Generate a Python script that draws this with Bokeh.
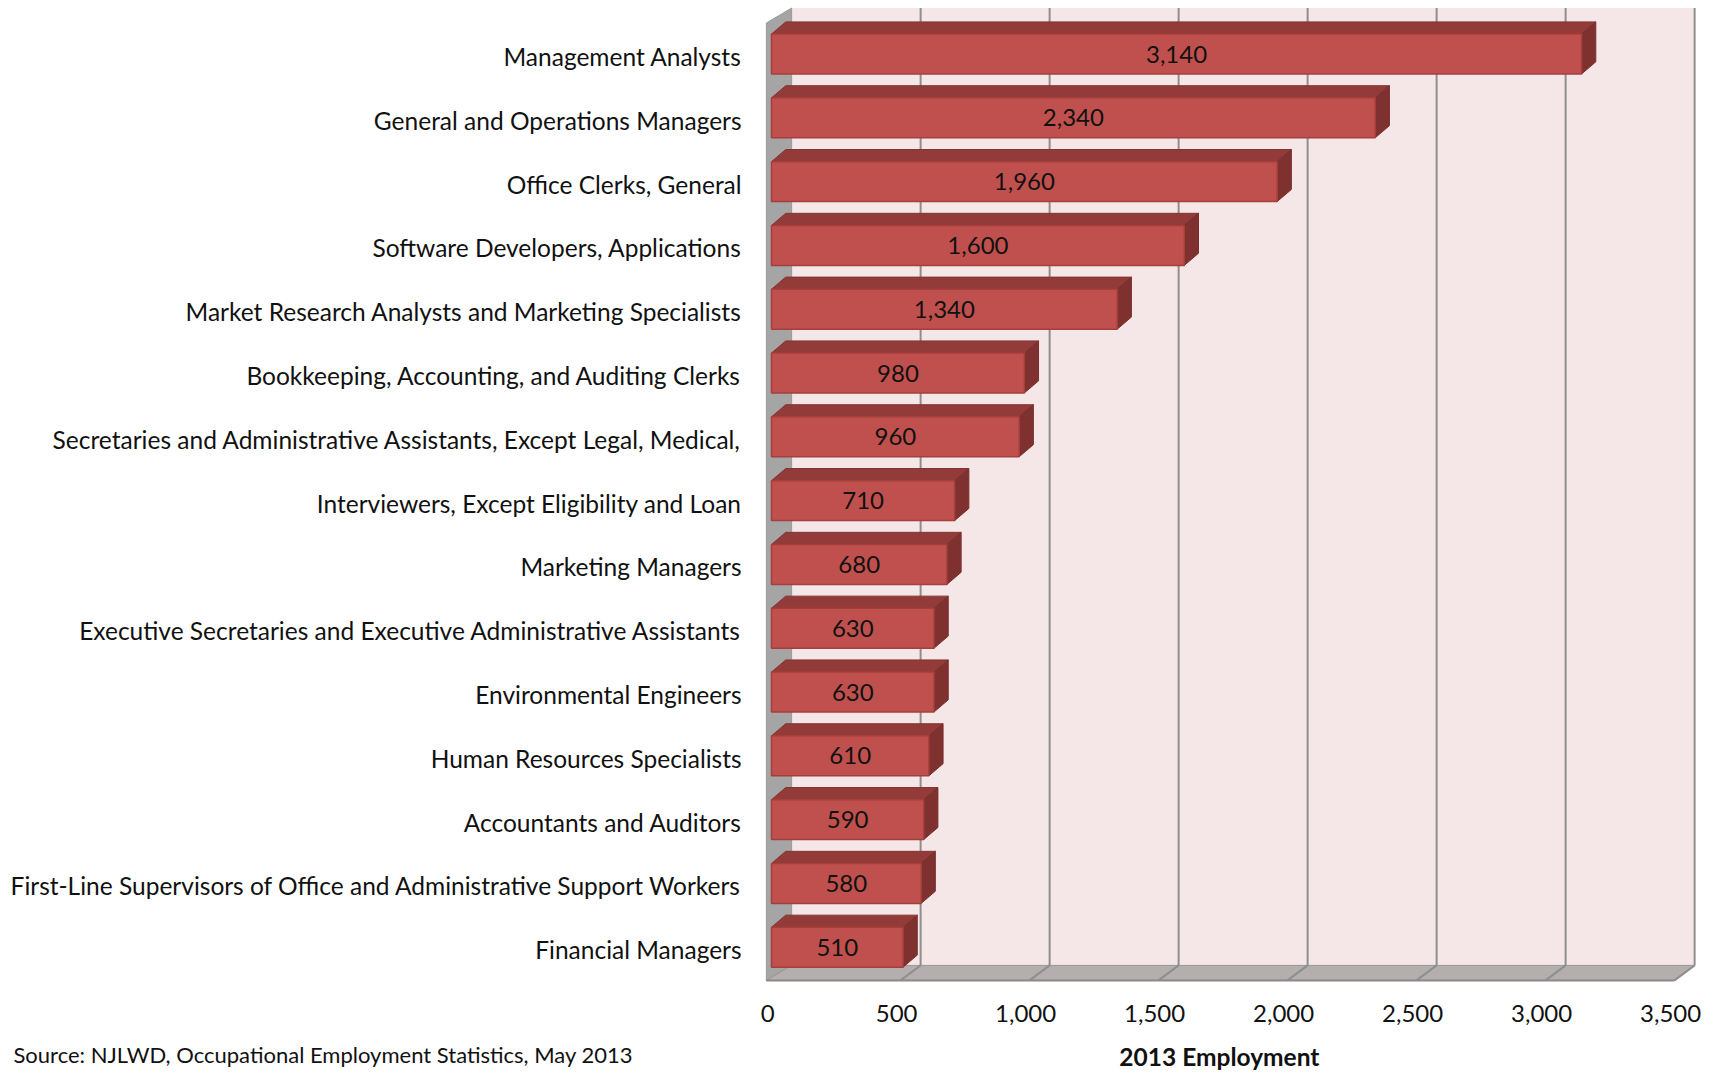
from bokeh.plotting import figure
from bokeh.models import Range1d, ColumnDataSource
from bokeh.embed import file_html
from bokeh.resources import INLINE
from bokeh.core.properties import value

occupations = [
    "Management Analysts",
    "General and Operations Managers",
    "Office Clerks, General",
    "Software Developers, Applications",
    "Market Research Analysts and Marketing Specialists",
    "Bookkeeping, Accounting, and Auditing Clerks",
    "Secretaries and Administrative Assistants, Except Legal, Medical,",
    "Interviewers, Except Eligibility and Loan",
    "Marketing Managers",
    "Executive Secretaries and Executive Administrative Assistants",
    "Environmental Engineers",
    "Human Resources Specialists",
    "Accountants and Auditors",
    "First-Line Supervisors of Office and Administrative Support Workers",
    "Financial Managers",
]
employment = [3140, 2340, 1960, 1600, 1340, 980, 960, 710, 680, 630, 630, 610, 590, 580, 510]
x_ticks = [0, 500, 1000, 1500, 2000, 2500, 3000, 3500]
x_title = "2013 Employment"
source_note = "Source: NJLWD, Occupational Employment Statistics, May 2013"

FONT = "Lato"
n = len(occupations)
idx = list(range(n))

# 3-D geometry (data units)
DXW, DYW = 78, 0.235      # wall depth
DXB, DYB = 55, 0.19       # bar depth
HB = 0.313                # half bar height
Y_TOP = -0.72
FLOOR_F = 14.52
FLOOR_B = FLOOR_F - DYW
XMIN = -20
XMAX = x_ticks[-1]

# label placement (data units)
CAT_X = -116
TICK_Y = 15.04
TITLE_X, TITLE_Y = 1736, 15.72
SRC_X, SRC_Y = -2938, 15.68

p = figure(width=1716, height=1073, output_backend="svg", toolbar_location=None,
           x_range=Range1d(-2988.4, 3662.8), y_range=Range1d(15.979, -0.8386),
           min_border=0, x_axis_location=None, y_axis_location=None,
           background_fill_color="white", border_fill_color="white")
p.outline_line_color = None
p.xgrid.visible = False
p.ygrid.visible = False

# back wall
p.quad(left=[DXW], right=[XMAX + DXW], top=[Y_TOP], bottom=[FLOOR_B],
       fill_color="#F5E7E7", line_color=None)
# left wall
p.patch(x=[XMIN, XMIN, DXW, DXW], y=[FLOOR_F, Y_TOP + DYW, Y_TOP, FLOOR_B],
        fill_color="#A5A5A5", line_color="#999999", line_width=1)
# floor
p.patch(x=[XMIN, XMAX, XMAX + DXW, DXW], y=[FLOOR_F, FLOOR_F, FLOOR_B, FLOOR_B],
        fill_color="#B5AEAE", line_color="#9A9595", line_width=1)
p.line(x=[XMIN, XMAX], y=[FLOOR_F, FLOOR_F], line_color="#8C8888", line_width=2)

# gridlines (back wall + floor)
gx0, gy0, gx1, gy1 = [], [], [], []
for t in x_ticks[1:]:
    gx0 += [t + DXW, t + DXW]
    gy0 += [Y_TOP, FLOOR_B]
    gx1 += [t + DXW, t]
    gy1 += [FLOOR_B, FLOOR_F]
p.segment(x0=gx0, y0=gy0, x1=gx1, y1=gy1, line_color="#8E8E8E", line_width=2)

# bars
top_xs, top_ys, side_xs, side_ys = [], [], [], []
for i, v in zip(idx, employment):
    t, b = i - HB, i + HB
    top_xs.append([0, DXB, v + DXB, v])
    top_ys.append([t, t - DYB, t - DYB, t])
    side_xs.append([v, v + DXB, v + DXB, v])
    side_ys.append([t, t - DYB, b - DYB, b])
p.patches(xs=top_xs, ys=top_ys, fill_color="#923B39", line_color="#843432", line_width=1)
p.patches(xs=side_xs, ys=side_ys, fill_color="#7F3130", line_color="#7A2F2D", line_width=1)
src = ColumnDataSource(dict(
    y=idx, right=employment, mid=[v / 2 for v in employment],
    lab=[f"{v:,}" for v in employment], cat=occupations,
    cat_y=[i + 0.04 for i in idx]))
p.hbar(y="y", left=0, right="right", height=2 * HB, source=src,
       fill_color="#C0504D", line_color="#A63F3C", line_width=1.5)
p.text(x="mid", y="y", text="lab", source=src, text_align="center", text_baseline="middle",
       text_font=value(FONT), text_font_size="24px", text_color="#111111")

# category labels (left axis)
p.text(x=CAT_X, y="cat_y", text="cat", source=src, text_align="right", text_baseline="middle",
       text_font=value(FONT), text_font_size="24.5px", text_color="#111111")

# x tick labels (bottom axis)
tick_src = ColumnDataSource(dict(x=[t - 15 for t in x_ticks], y=[TICK_Y] * len(x_ticks),
                                 lab=[f"{t:,}" for t in x_ticks]))
p.text(x="x", y="y", text="lab", source=tick_src, text_align="center", text_baseline="middle",
       text_font=value(FONT), text_font_size="24px", text_color="#111111")

# axis title and source note
p.text(x=[TITLE_X], y=[TITLE_Y], text=[x_title], text_align="center", text_baseline="middle",
       text_font=value(FONT), text_font_size="24.5px", text_font_style="bold", text_color="#111111")
p.text(x=[SRC_X], y=[SRC_Y], text=[source_note], text_align="left", text_baseline="middle",
       text_font=value(FONT), text_font_size="22px", text_color="#111111")

open("out.html", "w").write(file_html(p, INLINE))
